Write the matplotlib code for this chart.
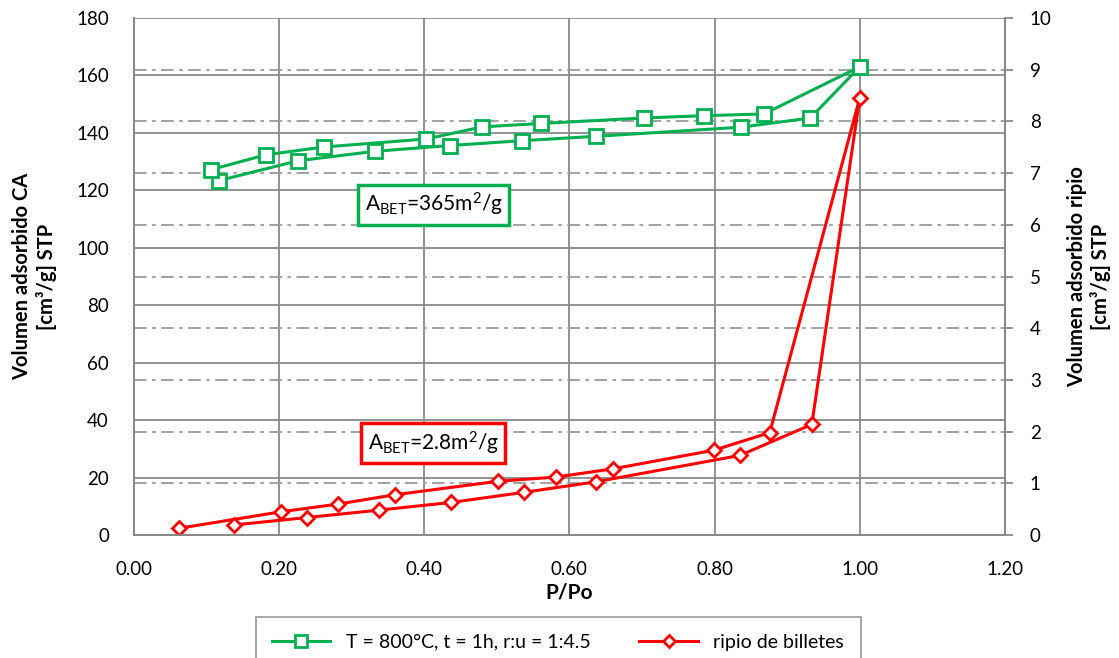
import numpy as np
import matplotlib
matplotlib.use("Agg")
import matplotlib.pyplot as plt
from matplotlib.ticker import FormatStrFormatter, MultipleLocator

plt.rcParams['font.family'] = ['Lato', 'DejaVu Sans']
plt.rcParams['mathtext.default'] = 'regular'

# isotermas: adsorcion (subida) y luego desorcion (bajada)
p_ca = [0.117, 0.226, 0.332, 0.435, 0.535, 0.636, 0.837, 0.932, 1.000,
        0.868, 0.785, 0.703, 0.561, 0.480, 0.403, 0.262, 0.182, 0.106]
v_ca = [123.4, 130.3, 133.6, 135.6, 137.3, 138.8, 142.0, 145.2, 163.0,
        146.6, 146.0, 145.2, 143.3, 142.1, 137.9, 135.1, 132.4, 127.2]

p_ripio = [0.138, 0.238, 0.337, 0.437, 0.537, 0.637, 0.835, 0.934, 1.000,
           0.876, 0.799, 0.660, 0.581, 0.502, 0.360, 0.281, 0.202, 0.062]
v_ripio = [0.195, 0.338, 0.481, 0.630, 0.825, 1.030, 1.540, 2.140, 8.450,
           1.980, 1.640, 1.280, 1.120, 1.040, 0.780, 0.598, 0.448, 0.130]

lbl_ca = 'T = 800°C, t = 1h, r:u = 1:4.5'
lbl_ripio = 'ripio de billetes'

verde = '#00B050'
rojo = '#FF0000'
gris = '#898989'

fig, ax1 = plt.subplots(figsize=(11.19, 6.58), dpi=100)
fig.subplots_adjust(left=0.1197, right=0.898, top=0.9726, bottom=0.1869)
ax2 = ax1.twinx()

ax1.set_xlim(0, 1.2)
ax1.set_ylim(0, 180)
ax2.set_ylim(0, 10)
ax1.xaxis.set_major_locator(MultipleLocator(0.2))
ax1.xaxis.set_major_formatter(FormatStrFormatter('%.2f'))
ax1.yaxis.set_major_locator(MultipleLocator(20))
ax2.yaxis.set_major_locator(MultipleLocator(1))

# rejilla: solida para el eje izquierdo, punto-raya para el derecho
ax1.set_yticks(np.arange(1, 10) * 18, minor=True)
ax1.grid(which='major', color=gris, lw=1.3, ls='-')
ax1.grid(which='minor', axis='y', color='#9a9a9a', lw=1.3, ls=(0, (7, 3, 2, 3)))
ax1.tick_params(which='minor', length=0)
ax1.set_axisbelow(True)

l1, = ax1.plot(p_ca, v_ca, color=verde, lw=2.2, marker='s', ms=10,
               mfc='white', mec=verde, mew=2, label=lbl_ca)
l2, = ax2.plot(p_ripio, v_ripio, color=rojo, lw=2.2, marker='D', ms=7.5,
               mfc='white', mec=rojo, mew=2, label=lbl_ripio)

for ax in (ax1, ax2):
    for s in ax.spines.values():
        s.set_color(gris)
        s.set_linewidth(1.3)
ax1.spines['top'].set_visible(False)
ax2.spines['top'].set_visible(False)

ax1.tick_params(axis='both', length=0, labelsize=13.5, colors='black')
ax1.tick_params(axis='y', pad=18)
ax1.tick_params(axis='x', pad=19)
ax2.tick_params(axis='y', length=6, width=1.3, color=gris, labelsize=13.5, pad=12)

ax1.set_xlabel('P/Po', fontsize=15, fontweight='bold', labelpad=3)
ax1.set_ylabel('Volumen adsorbido CA\n[cm³/g] STP', fontsize=14.5,
               fontweight='bold', labelpad=14, linespacing=1.2)
ax2.set_ylabel('Volumen adsorbido ripio\n[cm³/g] STP', fontsize=14.5,
               fontweight='bold', labelpad=11, linespacing=1.2)

ax1.text(0.413, 115, 'A$_{BET}$=365m$^2$/g', fontsize=15, ha='center',
         va='center', bbox=dict(boxstyle='square,pad=0.3', fc='white',
                                ec=verde, lw=2.5))
ax1.text(0.412, 32, 'A$_{BET}$=2.8m$^2$/g', fontsize=15, ha='center',
         va='center', bbox=dict(boxstyle='square,pad=0.3', fc='white',
                                ec=rojo, lw=2.5))

leg = fig.legend([l1, l2], [lbl_ca, lbl_ripio], loc='upper center',
                 bbox_to_anchor=(0.4987, 0.0623), borderaxespad=0, ncol=2,
                 fontsize=14, fancybox=False, edgecolor=gris, handlelength=3,
                 columnspacing=2.5, borderpad=0.85, markerscale=0.8)
leg.get_frame().set_linewidth(1.3)

fig.savefig('out.png', dpi=100)
